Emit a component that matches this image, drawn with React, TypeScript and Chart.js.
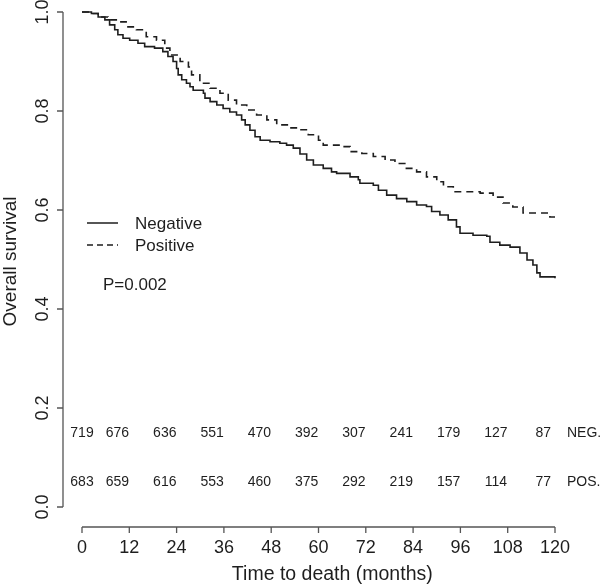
import React, { useEffect, useRef } from "react";
import { Chart, registerables } from "chart.js";

Chart.register(...registerables);

// Kaplan-Meier curve, Negative group
const negTimes = [0, 2.4, 4.1, 5.8, 7, 8.3, 9.1, 10.4, 12.1, 14.2, 15.9, 18.4, 20.5, 21.8, 23.1, 24, 24.4, 25.3, 26.5, 27.4, 28.2, 30.8, 31.2, 32.5, 34.2, 35.8, 37.5, 39.2, 40.5, 41.4, 42.6, 43.9, 45.2, 47.7, 50.2, 51.9, 53.6, 55.3, 57, 58.7, 61.2, 63.3, 64.6, 68, 70.1, 70.5, 73.9, 75.2, 77.3, 79.8, 82.4, 84.9, 87.4, 88.7, 90.8, 92.9, 95, 95.9, 99.2, 102.7, 103.5, 106, 108.6, 111.1, 112.9, 114.4, 115.4, 116.2, 120];
const negSurv = [1.0, 0.997, 0.99, 0.984, 0.974, 0.964, 0.954, 0.947, 0.943, 0.937, 0.93, 0.927, 0.92, 0.91, 0.9, 0.886, 0.873, 0.863, 0.856, 0.849, 0.842, 0.836, 0.826, 0.819, 0.812, 0.805, 0.798, 0.792, 0.782, 0.772, 0.761, 0.748, 0.741, 0.738, 0.735, 0.731, 0.725, 0.713, 0.701, 0.691, 0.684, 0.677, 0.674, 0.667, 0.661, 0.654, 0.65, 0.64, 0.63, 0.623, 0.617, 0.61, 0.607, 0.597, 0.59, 0.58, 0.566, 0.553, 0.549, 0.547, 0.535, 0.529, 0.525, 0.513, 0.499, 0.489, 0.473, 0.465, 0.462];

// Kaplan-Meier curve, Positive group
const posTimes = [0, 2.4, 4.1, 6.6, 9.1, 11.2, 13.8, 16.3, 18.9, 21, 22.3, 24.9, 27, 27.8, 29.9, 32.5, 35, 37.1, 39.2, 41.8, 44.3, 46.9, 49.4, 52.8, 55.3, 57.4, 60, 61.2, 66.3, 68, 71, 73.9, 76.9, 79.4, 81.9, 84.9, 87.4, 90, 91.7, 94.2, 101, 104.3, 106.8, 109.3, 111.9, 118.7, 120];
const posSurv = [1.0, 0.997, 0.99, 0.984, 0.98, 0.97, 0.964, 0.95, 0.943, 0.927, 0.913, 0.9, 0.889, 0.873, 0.856, 0.846, 0.836, 0.822, 0.812, 0.802, 0.792, 0.782, 0.772, 0.766, 0.762, 0.752, 0.741, 0.731, 0.728, 0.718, 0.714, 0.708, 0.701, 0.694, 0.684, 0.677, 0.667, 0.657, 0.647, 0.637, 0.634, 0.626, 0.614, 0.606, 0.594, 0.586, 0.586];

// Axis ticks
const xTicks = [0, 12, 24, 36, 48, 60, 72, 84, 96, 108, 120];
const yTicks = [0, 0.2, 0.4, 0.6, 0.8, 1.0];

// Numbers at risk
const riskTimes = [0, 9, 21, 33, 45, 57, 69, 81, 93, 105, 117];
const riskNeg = [719, 676, 636, 551, 470, 392, 307, 241, 179, 127, 87];
const riskPos = [683, 659, 616, 553, 460, 375, 292, 219, 157, 114, 77];
const riskLabels = ["NEG.", "POS."];
const riskRowY = [0.15, 0.05];

const seriesNames = ["Negative", "Positive"];
const pValueText = "P=0.002";
const xTitle = "Time to death (months)";
const yTitle = "Overall survival";

const FONT = "'Liberation Sans', Arial, Helvetica, sans-serif";
const INK = "#1e1e1e";
const AXIS = "#555555";

const decorPlugin = {
  id: "rDecor",
  afterDraw(chart: any) {
    const { ctx, chartArea, scales } = chart;
    const xs = scales.x;
    const ys = scales.y;
    ctx.save();

    // Y axis (detached)
    const axX = chartArea.left - 19;
    ctx.strokeStyle = AXIS;
    ctx.lineWidth = 1.3;
    ctx.beginPath();
    ctx.moveTo(axX, ys.getPixelForValue(0));
    ctx.lineTo(axX, ys.getPixelForValue(1));
    yTicks.forEach((v) => {
      const py = ys.getPixelForValue(v);
      ctx.moveTo(axX, py);
      ctx.lineTo(axX - 6, py);
    });
    ctx.stroke();
    ctx.fillStyle = INK;
    ctx.font = `18px ${FONT}`;
    ctx.textAlign = "center";
    ctx.textBaseline = "middle";
    yTicks.forEach((v) => {
      const py = ys.getPixelForValue(v);
      ctx.save();
      ctx.translate(axX - 20, py);
      ctx.rotate(-Math.PI / 2);
      ctx.fillText(v.toFixed(1), 0, 0);
      ctx.restore();
    });

    // X axis (detached)
    const axY = chartArea.bottom + 20;
    ctx.beginPath();
    ctx.moveTo(xs.getPixelForValue(0), axY);
    ctx.lineTo(xs.getPixelForValue(120), axY);
    xTicks.forEach((v) => {
      const px = xs.getPixelForValue(v);
      ctx.moveTo(px, axY);
      ctx.lineTo(px, axY + 6);
    });
    ctx.stroke();
    xTicks.forEach((v) => {
      ctx.fillText(String(v), xs.getPixelForValue(v), axY + 21);
    });

    // Axis titles
    ctx.font = `19.5px ${FONT}`;
    ctx.fillText(xTitle, xs.getPixelForValue(63.5), axY + 48);
    ctx.font = `19px ${FONT}`;
    ctx.save();
    ctx.translate(11, (ys.getPixelForValue(0) + ys.getPixelForValue(1)) / 2 + 2);
    ctx.rotate(-Math.PI / 2);
    ctx.fillText(yTitle, 0, 0);
    ctx.restore();

    // Numbers at risk
    ctx.font = `14px ${FONT}`;
    [riskNeg, riskPos].forEach((row, r) => {
      const py = ys.getPixelForValue(riskRowY[r]);
      ctx.textAlign = "center";
      row.forEach((n, i) => {
        ctx.fillText(String(n), xs.getPixelForValue(riskTimes[i]), py);
      });
      ctx.textAlign = "left";
      ctx.fillText(riskLabels[r], 567, py);
    });

    // Legend
    ctx.font = `17px ${FONT}`;
    ctx.textAlign = "left";
    const legY = [223, 245];
    ctx.strokeStyle = INK;
    ctx.lineWidth = 1.5;
    legY.forEach((ly, i) => {
      ctx.setLineDash(i === 0 ? [] : [6, 4]);
      ctx.beginPath();
      ctx.moveTo(87, ly);
      ctx.lineTo(118, ly);
      ctx.stroke();
      ctx.setLineDash([]);
      ctx.fillText(seriesNames[i], 135, ly + 1);
    });

    // P-value
    ctx.fillText(pValueText, 103, 285);

    ctx.restore();
  },
};

export default function App() {
  const canvasRef = useRef<HTMLCanvasElement | null>(null);

  useEffect(() => {
    document.body.style.margin = "0";
    document.body.style.background = "#ffffff";
    const canvas = canvasRef.current;
    if (!canvas) return;
    const chart = new Chart(canvas, {
      type: "line",
      data: {
        datasets: [
          {
            label: seriesNames[0],
            data: negTimes.map((t, i) => ({ x: t, y: negSurv[i] })),
            borderColor: INK,
            borderWidth: 1.6,
            pointRadius: 0,
            stepped: true,
            fill: false,
            clip: 6,
          },
          {
            label: seriesNames[1],
            data: posTimes.map((t, i) => ({ x: t, y: posSurv[i] })),
            borderColor: INK,
            borderWidth: 1.6,
            borderDash: [7, 5],
            pointRadius: 0,
            stepped: true,
            fill: false,
            clip: 6,
          },
        ],
      },
      options: {
        responsive: false,
        animation: false,
        layout: { padding: { left: 82, right: 45, top: 12, bottom: 80 } },
        plugins: {
          legend: { display: false },
          tooltip: { enabled: false },
          title: { display: false },
        },
        scales: {
          x: { type: "linear", min: 0, max: 120, display: false },
          y: { type: "linear", min: 0, max: 1, display: false },
        },
      },
      plugins: [decorPlugin],
    });
    return () => chart.destroy();
  }, []);

  return (
    <div style={{ width: 600, height: 587, background: "#fff" }}>
      <canvas ref={canvasRef} width={600} height={587} style={{ display: "block" }} />
    </div>
  );
}
